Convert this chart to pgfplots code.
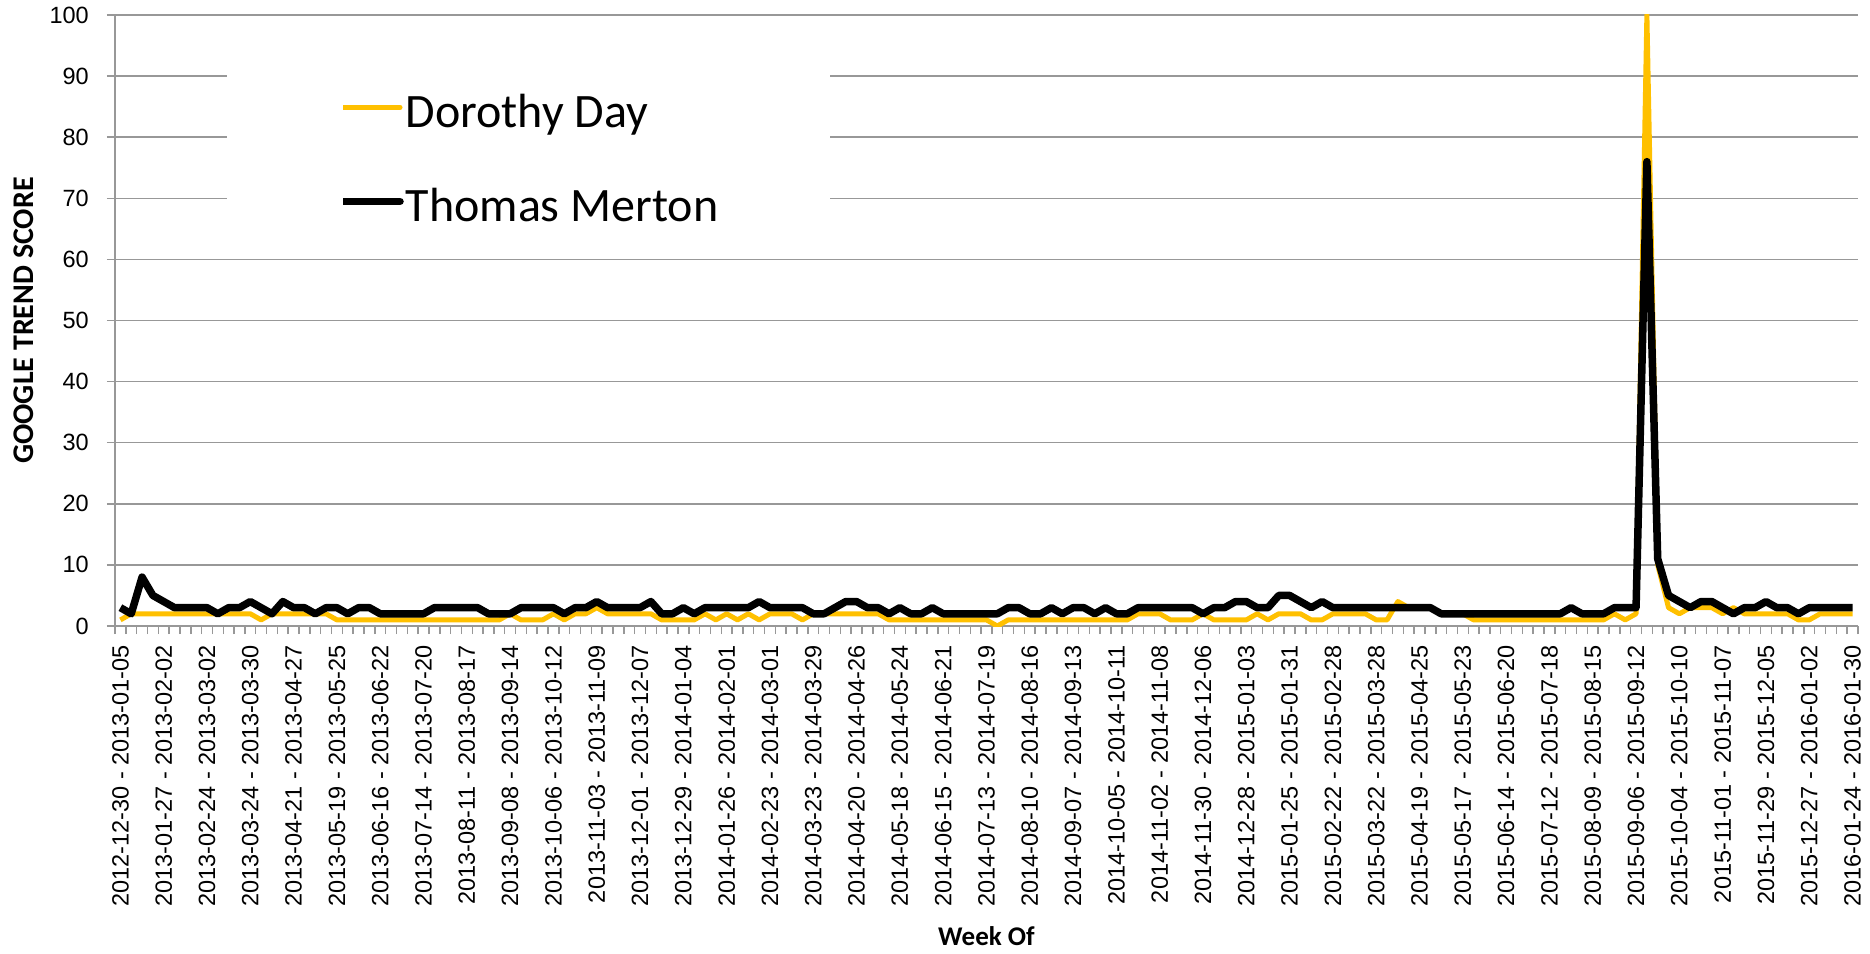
\documentclass[border=0pt]{standalone}
\usepackage{fontspec}
\setmainfont{Carlito}
\newfontfamily\lib{Liberation Sans}
\usepackage{pgfplots}
\usepackage{pgfplotstable}
\pgfplotsset{compat=1.18}
\definecolor{gold}{HTML}{FFC000}
\definecolor{gridgray}{HTML}{989898}

\pgfplotstableread{
i dd tm
0 1 3
1 2 2
2 2 8
3 2 5
4 2 4
5 2 3
6 2 3
7 2 3
8 2 3
9 2 2
10 2 3
11 2 3
12 2 4
13 1 3
14 2 2
15 2 4
16 2 3
17 2 3
18 2 2
19 2 3
20 1 3
21 1 2
22 1 3
23 1 3
24 1 2
25 1 2
26 1 2
27 1 2
28 1 2
29 1 3
30 1 3
31 1 3
32 1 3
33 1 3
34 1 2
35 1 2
36 2 2
37 1 3
38 1 3
39 1 3
40 2 3
41 1 2
42 2 3
43 2 3
44 3 4
45 2 3
46 2 3
47 2 3
48 2 3
49 2 4
50 1 2
51 1 2
52 1 3
53 1 2
54 2 3
55 1 3
56 2 3
57 1 3
58 2 3
59 1 4
60 2 3
61 2 3
62 2 3
63 1 3
64 2 2
65 2 2
66 2 3
67 2 4
68 2 4
69 2 3
70 2 3
71 1 2
72 1 3
73 1 2
74 1 2
75 1 3
76 1 2
77 1 2
78 1 2
79 1 2
80 1 2
81 0 2
82 1 3
83 1 3
84 1 2
85 1 2
86 1 3
87 1 2
88 1 3
89 1 3
90 1 2
91 1 3
92 1 2
93 1 2
94 2 3
95 2 3
96 2 3
97 1 3
98 1 3
99 1 3
100 2 2
101 1 3
102 1 3
103 1 4
104 1 4
105 2 3
106 1 3
107 2 5
108 2 5
109 2 4
110 1 3
111 1 4
112 2 3
113 2 3
114 2 3
115 2 3
116 1 3
117 1 3
118 4 3
119 3 3
120 3 3
121 3 3
122 2 2
123 2 2
124 2 2
125 1 2
126 1 2
127 1 2
128 1 2
129 1 2
130 1 2
131 1 2
132 1 2
133 1 2
134 1 3
135 1 2
136 1 2
137 1 2
138 2 3
139 1 3
140 2 3
141 100 76
142 10 11
143 3 5
144 2 4
145 3 3
146 3 4
147 3 4
148 2 3
149 3 2
150 2 3
151 2 3
152 2 4
153 2 3
154 2 3
155 1 2
156 1 3
157 2 3
158 2 3
159 2 3
160 2 3
}\trenddata

\begin{document}
\begin{tikzpicture}
\begin{axis}[
  name=ax, at={(0pt,0pt)}, anchor=south west,
  scale only axis, width=1743pt, height=611pt,
  xmin=-0.5, xmax=160.5, ymin=0, ymax=100,
  axis x line*=bottom, axis y line*=left,
  axis line style={draw=gridgray, line width=1.5pt},
  tick align=outside, major tick length=8pt,
  tick style={draw=gridgray, line width=1.5pt},
  xtick={-0.5,0.5,...,160.5}, xticklabels={},
  extra x ticks={0,4,...,160},
  extra x tick style={major tick length=0pt},
  extra x tick labels={
    2012-12-30 - 2013-01-05, 2013-01-27 - 2013-02-02, 2013-02-24 - 2013-03-02,
    2013-03-24 - 2013-03-30, 2013-04-21 - 2013-04-27, 2013-05-19 - 2013-05-25,
    2013-06-16 - 2013-06-22, 2013-07-14 - 2013-07-20, 2013-08-11 - 2013-08-17,
    2013-09-08 - 2013-09-14, 2013-10-06 - 2013-10-12, 2013-11-03 - 2013-11-09,
    2013-12-01 - 2013-12-07, 2013-12-29 - 2014-01-04, 2014-01-26 - 2014-02-01,
    2014-02-23 - 2014-03-01, 2014-03-23 - 2014-03-29, 2014-04-20 - 2014-04-26,
    2014-05-18 - 2014-05-24, 2014-06-15 - 2014-06-21, 2014-07-13 - 2014-07-19,
    2014-08-10 - 2014-08-16, 2014-09-07 - 2014-09-13, 2014-10-05 - 2014-10-11,
    2014-11-02 - 2014-11-08, 2014-11-30 - 2014-12-06, 2014-12-28 - 2015-01-03,
    2015-01-25 - 2015-01-31, 2015-02-22 - 2015-02-28, 2015-03-22 - 2015-03-28,
    2015-04-19 - 2015-04-25, 2015-05-17 - 2015-05-23, 2015-06-14 - 2015-06-20,
    2015-07-12 - 2015-07-18, 2015-08-09 - 2015-08-15, 2015-09-06 - 2015-09-12,
    2015-10-04 - 2015-10-10, 2015-11-01 - 2015-11-07, 2015-11-29 - 2015-12-05,
    2015-12-27 - 2016-01-02, 2016-01-24 - 2016-01-30},
  xticklabel style={rotate=90, anchor=east, inner xsep=19pt, inner ysep=0pt,
    font=\lib\fontsize{23.5}{28}\selectfont},
  ytick={0,10,...,100},
  yticklabels={0,10,20,30,40,50,60,70,80,90,100},
  yticklabel style={anchor=east, inner sep=0pt, xshift=-18pt,
    font=\lib\fontsize{23.5}{28}\selectfont},
  ymajorgrids, grid style={draw=gridgray, line width=1.5pt},
  xlabel={Week Of},
  ylabel={GOOGLE TREND SCORE},
  every axis x label/.style={at={(axis description cs:0.5,-0.5074)}, anchor=center,
    font=\bfseries\fontsize{27}{32}\selectfont},
  every axis y label/.style={at={(axis description cs:-0.0522,0.5)}, rotate=90, anchor=center,
    font=\bfseries\fontsize{30}{35}\selectfont},
  legend cell align=left,
  legend style={at={(axis description cs:0.0643,0.9133)}, anchor=north west,
    draw=none, fill=white, inner xsep=112pt, inner ysep=18pt,
    row sep=51.5pt, column sep=2pt, nodes={inner sep=0pt},
    font=\fontsize{48}{57}\selectfont},
  legend image code/.code={\path (0pt,0pt) -- (56pt,0pt);
    \draw[#1, line cap=round] (6pt,0pt) -- (57pt,0pt);},
]
\addplot[gold, line width=5pt, line join=round] table[x=i, y=dd] {\trenddata};
\addlegendentry{\rule[-11pt]{0pt}{52pt}Dorothy Day}
\addplot[black, line width=7.5pt, line join=round] table[x=i, y=tm] {\trenddata};
\addlegendentry{\rule[-11pt]{0pt}{52pt}Thomas Merton}
\end{axis}
\pgfresetboundingbox
\useasboundingbox (-115pt,-327pt) rectangle (1755pt,626pt);
\end{tikzpicture}
\end{document}
